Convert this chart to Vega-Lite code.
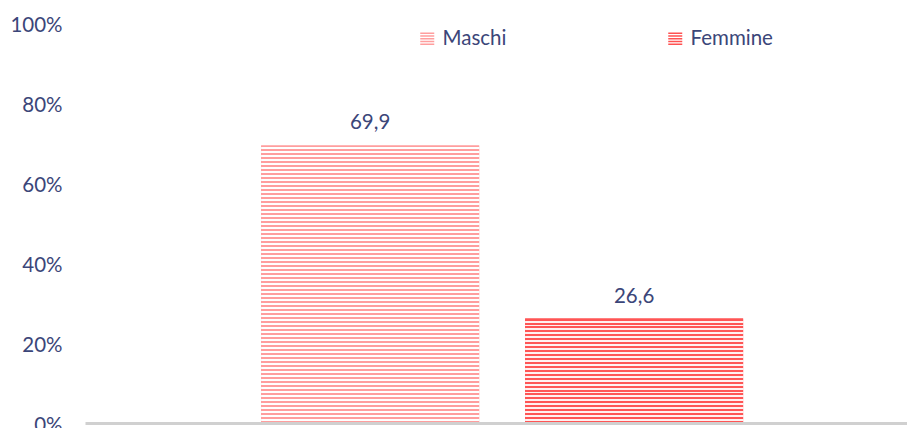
{
  "$schema": "https://vega.github.io/schema/vega-lite/v6.json",
  "width": 822,
  "height": 400,
  "autosize": {"type": "none"},
  "padding": {"left": 85, "top": 25, "right": 0, "bottom": 3},
  "background": "#ffffff",
  "config": {
    "view": {"stroke": null},
    "font": "Lato",
    "locale": {"number": {"decimal": ",", "thousands": ".", "grouping": [3], "currency": ["€", ""]}}
  },
  "data": {"values": [
    {"sesso": "Maschi", "valore": 69.9},
    {"sesso": "Femmine", "valore": 26.6}
  ]},
  "encoding": {
    "x": {
      "field": "sesso", "type": "nominal", "sort": ["Maschi", "Femmine"],
      "scale": {"paddingInner": 0.174, "paddingOuter": 0.644, "align": 0.518},
      "axis": {"title": null, "labels": false, "ticks": false, "domain": true, "domainColor": "#d0d0d0", "domainWidth": 3, "offset": -2, "zindex": 1}
    },
    "y": {
      "field": "valore", "type": "quantitative",
      "scale": {"domain": [0, 100], "nice": false},
      "axis": {"title": null, "values": [0, 20, 40, 60, 80, 100], "labelExpr": "datum.value + '%'", "grid": false, "domain": false, "ticks": false, "labelPadding": 23, "labelFontSize": 20.5, "labelColor": "#3b4679", "labelFont": "Lato"}
    }
  },
  "layer": [
    {
      "mark": {"type": "bar"},
      "encoding": {
        "color": {
          "field": "sesso", "type": "nominal",
          "scale": {"domain": ["Maschi", "Femmine"], "range": ["#ff9e9e", "#ff5252"]},
          "legend": {
            "title": null, "orient": "none", "legendX": 332, "legendY": 4, "direction": "horizontal", "padding": 0,
            "symbolType": "M-1,-1H1V-0.78H-1Z M-1,-0.6H1V-0.38H-1Z M-1,-0.2H1V0.02H-1Z M-1,0.2H1V0.42H-1Z M-1,0.6H1V0.82H-1Z",
            "symbolSize": 196, "symbolStrokeWidth": 0, "labelOffset": 5, "columnPadding": 158,
            "labelFontSize": 20.5, "labelColor": "#3b4679", "labelFont": "Lato"
          }
        }
      }
    },
    {
      "transform": [{"filter": "datum.sesso == 'Maschi'"}],
      "mark": {"type": "bar", "fill": {"gradient": "linear", "x1": 0, "y1": 0, "x2": 0, "y2": 1, "stops": [
{"offset":0,"color":"#ff9e9e"},{"offset":0.00714,"color":"#ff9e9e"},{"offset":0.00714,"color":"#ffffff"},{"offset":0.01429,"color":"#ffffff"},
{"offset":0.01429,"color":"#ff9e9e"},{"offset":0.02143,"color":"#ff9e9e"},{"offset":0.02143,"color":"#ffffff"},{"offset":0.02857,"color":"#ffffff"},
{"offset":0.02857,"color":"#ff9e9e"},{"offset":0.03571,"color":"#ff9e9e"},{"offset":0.03571,"color":"#ffffff"},{"offset":0.04286,"color":"#ffffff"},
{"offset":0.04286,"color":"#ff9e9e"},{"offset":0.05,"color":"#ff9e9e"},{"offset":0.05,"color":"#ffffff"},{"offset":0.05714,"color":"#ffffff"},
{"offset":0.05714,"color":"#ff9e9e"},{"offset":0.06429,"color":"#ff9e9e"},{"offset":0.06429,"color":"#ffffff"},{"offset":0.07143,"color":"#ffffff"},
{"offset":0.07143,"color":"#ff9e9e"},{"offset":0.07857,"color":"#ff9e9e"},{"offset":0.07857,"color":"#ffffff"},{"offset":0.08571,"color":"#ffffff"},
{"offset":0.08571,"color":"#ff9e9e"},{"offset":0.09286,"color":"#ff9e9e"},{"offset":0.09286,"color":"#ffffff"},{"offset":0.1,"color":"#ffffff"},
{"offset":0.1,"color":"#ff9e9e"},{"offset":0.10714,"color":"#ff9e9e"},{"offset":0.10714,"color":"#ffffff"},{"offset":0.11429,"color":"#ffffff"},
{"offset":0.11429,"color":"#ff9e9e"},{"offset":0.12143,"color":"#ff9e9e"},{"offset":0.12143,"color":"#ffffff"},{"offset":0.12857,"color":"#ffffff"},
{"offset":0.12857,"color":"#ff9e9e"},{"offset":0.13571,"color":"#ff9e9e"},{"offset":0.13571,"color":"#ffffff"},{"offset":0.14286,"color":"#ffffff"},
{"offset":0.14286,"color":"#ff9e9e"},{"offset":0.15,"color":"#ff9e9e"},{"offset":0.15,"color":"#ffffff"},{"offset":0.15714,"color":"#ffffff"},
{"offset":0.15714,"color":"#ff9e9e"},{"offset":0.16429,"color":"#ff9e9e"},{"offset":0.16429,"color":"#ffffff"},{"offset":0.17143,"color":"#ffffff"},
{"offset":0.17143,"color":"#ff9e9e"},{"offset":0.17857,"color":"#ff9e9e"},{"offset":0.17857,"color":"#ffffff"},{"offset":0.18571,"color":"#ffffff"},
{"offset":0.18571,"color":"#ff9e9e"},{"offset":0.19286,"color":"#ff9e9e"},{"offset":0.19286,"color":"#ffffff"},{"offset":0.2,"color":"#ffffff"},
{"offset":0.2,"color":"#ff9e9e"},{"offset":0.20714,"color":"#ff9e9e"},{"offset":0.20714,"color":"#ffffff"},{"offset":0.21429,"color":"#ffffff"},
{"offset":0.21429,"color":"#ff9e9e"},{"offset":0.22143,"color":"#ff9e9e"},{"offset":0.22143,"color":"#ffffff"},{"offset":0.22857,"color":"#ffffff"},
{"offset":0.22857,"color":"#ff9e9e"},{"offset":0.23571,"color":"#ff9e9e"},{"offset":0.23571,"color":"#ffffff"},{"offset":0.24286,"color":"#ffffff"},
{"offset":0.24286,"color":"#ff9e9e"},{"offset":0.25,"color":"#ff9e9e"},{"offset":0.25,"color":"#ffffff"},{"offset":0.25714,"color":"#ffffff"},
{"offset":0.25714,"color":"#ff9e9e"},{"offset":0.26429,"color":"#ff9e9e"},{"offset":0.26429,"color":"#ffffff"},{"offset":0.27143,"color":"#ffffff"},
{"offset":0.27143,"color":"#ff9e9e"},{"offset":0.27857,"color":"#ff9e9e"},{"offset":0.27857,"color":"#ffffff"},{"offset":0.28571,"color":"#ffffff"},
{"offset":0.28571,"color":"#ff9e9e"},{"offset":0.29286,"color":"#ff9e9e"},{"offset":0.29286,"color":"#ffffff"},{"offset":0.3,"color":"#ffffff"},
{"offset":0.3,"color":"#ff9e9e"},{"offset":0.30714,"color":"#ff9e9e"},{"offset":0.30714,"color":"#ffffff"},{"offset":0.31429,"color":"#ffffff"},
{"offset":0.31429,"color":"#ff9e9e"},{"offset":0.32143,"color":"#ff9e9e"},{"offset":0.32143,"color":"#ffffff"},{"offset":0.32857,"color":"#ffffff"},
{"offset":0.32857,"color":"#ff9e9e"},{"offset":0.33571,"color":"#ff9e9e"},{"offset":0.33571,"color":"#ffffff"},{"offset":0.34286,"color":"#ffffff"},
{"offset":0.34286,"color":"#ff9e9e"},{"offset":0.35,"color":"#ff9e9e"},{"offset":0.35,"color":"#ffffff"},{"offset":0.35714,"color":"#ffffff"},
{"offset":0.35714,"color":"#ff9e9e"},{"offset":0.36429,"color":"#ff9e9e"},{"offset":0.36429,"color":"#ffffff"},{"offset":0.37143,"color":"#ffffff"},
{"offset":0.37143,"color":"#ff9e9e"},{"offset":0.37857,"color":"#ff9e9e"},{"offset":0.37857,"color":"#ffffff"},{"offset":0.38571,"color":"#ffffff"},
{"offset":0.38571,"color":"#ff9e9e"},{"offset":0.39286,"color":"#ff9e9e"},{"offset":0.39286,"color":"#ffffff"},{"offset":0.4,"color":"#ffffff"},
{"offset":0.4,"color":"#ff9e9e"},{"offset":0.40714,"color":"#ff9e9e"},{"offset":0.40714,"color":"#ffffff"},{"offset":0.41429,"color":"#ffffff"},
{"offset":0.41429,"color":"#ff9e9e"},{"offset":0.42143,"color":"#ff9e9e"},{"offset":0.42143,"color":"#ffffff"},{"offset":0.42857,"color":"#ffffff"},
{"offset":0.42857,"color":"#ff9e9e"},{"offset":0.43571,"color":"#ff9e9e"},{"offset":0.43571,"color":"#ffffff"},{"offset":0.44286,"color":"#ffffff"},
{"offset":0.44286,"color":"#ff9e9e"},{"offset":0.45,"color":"#ff9e9e"},{"offset":0.45,"color":"#ffffff"},{"offset":0.45714,"color":"#ffffff"},
{"offset":0.45714,"color":"#ff9e9e"},{"offset":0.46429,"color":"#ff9e9e"},{"offset":0.46429,"color":"#ffffff"},{"offset":0.47143,"color":"#ffffff"},
{"offset":0.47143,"color":"#ff9e9e"},{"offset":0.47857,"color":"#ff9e9e"},{"offset":0.47857,"color":"#ffffff"},{"offset":0.48571,"color":"#ffffff"},
{"offset":0.48571,"color":"#ff9e9e"},{"offset":0.49286,"color":"#ff9e9e"},{"offset":0.49286,"color":"#ffffff"},{"offset":0.5,"color":"#ffffff"},
{"offset":0.5,"color":"#ff9e9e"},{"offset":0.50714,"color":"#ff9e9e"},{"offset":0.50714,"color":"#ffffff"},{"offset":0.51429,"color":"#ffffff"},
{"offset":0.51429,"color":"#ff9e9e"},{"offset":0.52143,"color":"#ff9e9e"},{"offset":0.52143,"color":"#ffffff"},{"offset":0.52857,"color":"#ffffff"},
{"offset":0.52857,"color":"#ff9e9e"},{"offset":0.53571,"color":"#ff9e9e"},{"offset":0.53571,"color":"#ffffff"},{"offset":0.54286,"color":"#ffffff"},
{"offset":0.54286,"color":"#ff9e9e"},{"offset":0.55,"color":"#ff9e9e"},{"offset":0.55,"color":"#ffffff"},{"offset":0.55714,"color":"#ffffff"},
{"offset":0.55714,"color":"#ff9e9e"},{"offset":0.56429,"color":"#ff9e9e"},{"offset":0.56429,"color":"#ffffff"},{"offset":0.57143,"color":"#ffffff"},
{"offset":0.57143,"color":"#ff9e9e"},{"offset":0.57857,"color":"#ff9e9e"},{"offset":0.57857,"color":"#ffffff"},{"offset":0.58571,"color":"#ffffff"},
{"offset":0.58571,"color":"#ff9e9e"},{"offset":0.59286,"color":"#ff9e9e"},{"offset":0.59286,"color":"#ffffff"},{"offset":0.6,"color":"#ffffff"},
{"offset":0.6,"color":"#ff9e9e"},{"offset":0.60714,"color":"#ff9e9e"},{"offset":0.60714,"color":"#ffffff"},{"offset":0.61429,"color":"#ffffff"},
{"offset":0.61429,"color":"#ff9e9e"},{"offset":0.62143,"color":"#ff9e9e"},{"offset":0.62143,"color":"#ffffff"},{"offset":0.62857,"color":"#ffffff"},
{"offset":0.62857,"color":"#ff9e9e"},{"offset":0.63571,"color":"#ff9e9e"},{"offset":0.63571,"color":"#ffffff"},{"offset":0.64286,"color":"#ffffff"},
{"offset":0.64286,"color":"#ff9e9e"},{"offset":0.65,"color":"#ff9e9e"},{"offset":0.65,"color":"#ffffff"},{"offset":0.65714,"color":"#ffffff"},
{"offset":0.65714,"color":"#ff9e9e"},{"offset":0.66429,"color":"#ff9e9e"},{"offset":0.66429,"color":"#ffffff"},{"offset":0.67143,"color":"#ffffff"},
{"offset":0.67143,"color":"#ff9e9e"},{"offset":0.67857,"color":"#ff9e9e"},{"offset":0.67857,"color":"#ffffff"},{"offset":0.68571,"color":"#ffffff"},
{"offset":0.68571,"color":"#ff9e9e"},{"offset":0.69286,"color":"#ff9e9e"},{"offset":0.69286,"color":"#ffffff"},{"offset":0.7,"color":"#ffffff"},
{"offset":0.7,"color":"#ff9e9e"},{"offset":0.70714,"color":"#ff9e9e"},{"offset":0.70714,"color":"#ffffff"},{"offset":0.71429,"color":"#ffffff"},
{"offset":0.71429,"color":"#ff9e9e"},{"offset":0.72143,"color":"#ff9e9e"},{"offset":0.72143,"color":"#ffffff"},{"offset":0.72857,"color":"#ffffff"},
{"offset":0.72857,"color":"#ff9e9e"},{"offset":0.73571,"color":"#ff9e9e"},{"offset":0.73571,"color":"#ffffff"},{"offset":0.74286,"color":"#ffffff"},
{"offset":0.74286,"color":"#ff9e9e"},{"offset":0.75,"color":"#ff9e9e"},{"offset":0.75,"color":"#ffffff"},{"offset":0.75714,"color":"#ffffff"},
{"offset":0.75714,"color":"#ff9e9e"},{"offset":0.76429,"color":"#ff9e9e"},{"offset":0.76429,"color":"#ffffff"},{"offset":0.77143,"color":"#ffffff"},
{"offset":0.77143,"color":"#ff9e9e"},{"offset":0.77857,"color":"#ff9e9e"},{"offset":0.77857,"color":"#ffffff"},{"offset":0.78571,"color":"#ffffff"},
{"offset":0.78571,"color":"#ff9e9e"},{"offset":0.79286,"color":"#ff9e9e"},{"offset":0.79286,"color":"#ffffff"},{"offset":0.8,"color":"#ffffff"},
{"offset":0.8,"color":"#ff9e9e"},{"offset":0.80714,"color":"#ff9e9e"},{"offset":0.80714,"color":"#ffffff"},{"offset":0.81429,"color":"#ffffff"},
{"offset":0.81429,"color":"#ff9e9e"},{"offset":0.82143,"color":"#ff9e9e"},{"offset":0.82143,"color":"#ffffff"},{"offset":0.82857,"color":"#ffffff"},
{"offset":0.82857,"color":"#ff9e9e"},{"offset":0.83571,"color":"#ff9e9e"},{"offset":0.83571,"color":"#ffffff"},{"offset":0.84286,"color":"#ffffff"},
{"offset":0.84286,"color":"#ff9e9e"},{"offset":0.85,"color":"#ff9e9e"},{"offset":0.85,"color":"#ffffff"},{"offset":0.85714,"color":"#ffffff"},
{"offset":0.85714,"color":"#ff9e9e"},{"offset":0.86429,"color":"#ff9e9e"},{"offset":0.86429,"color":"#ffffff"},{"offset":0.87143,"color":"#ffffff"},
{"offset":0.87143,"color":"#ff9e9e"},{"offset":0.87857,"color":"#ff9e9e"},{"offset":0.87857,"color":"#ffffff"},{"offset":0.88571,"color":"#ffffff"},
{"offset":0.88571,"color":"#ff9e9e"},{"offset":0.89286,"color":"#ff9e9e"},{"offset":0.89286,"color":"#ffffff"},{"offset":0.9,"color":"#ffffff"},
{"offset":0.9,"color":"#ff9e9e"},{"offset":0.90714,"color":"#ff9e9e"},{"offset":0.90714,"color":"#ffffff"},{"offset":0.91429,"color":"#ffffff"},
{"offset":0.91429,"color":"#ff9e9e"},{"offset":0.92143,"color":"#ff9e9e"},{"offset":0.92143,"color":"#ffffff"},{"offset":0.92857,"color":"#ffffff"},
{"offset":0.92857,"color":"#ff9e9e"},{"offset":0.93571,"color":"#ff9e9e"},{"offset":0.93571,"color":"#ffffff"},{"offset":0.94286,"color":"#ffffff"},
{"offset":0.94286,"color":"#ff9e9e"},{"offset":0.95,"color":"#ff9e9e"},{"offset":0.95,"color":"#ffffff"},{"offset":0.95714,"color":"#ffffff"},
{"offset":0.95714,"color":"#ff9e9e"},{"offset":0.96429,"color":"#ff9e9e"},{"offset":0.96429,"color":"#ffffff"},{"offset":0.97143,"color":"#ffffff"},
{"offset":0.97143,"color":"#ff9e9e"},{"offset":0.97857,"color":"#ff9e9e"},{"offset":0.97857,"color":"#ffffff"},{"offset":0.98571,"color":"#ffffff"},
{"offset":0.98571,"color":"#ff9e9e"},{"offset":0.99286,"color":"#ff9e9e"},{"offset":0.99286,"color":"#ffffff"},{"offset":1,"color":"#ffffff"}
      ]}}
    },
    {
      "transform": [{"filter": "datum.sesso == 'Femmine'"}],
      "mark": {"type": "bar", "fill": {"gradient": "linear", "x1": 0, "y1": 0, "x2": 0, "y2": 1, "stops": [
{"offset":0,"color":"#ff5555"},{"offset":0.01852,"color":"#ff5555"},{"offset":0.01852,"color":"#fff0f0"},{"offset":0.03704,"color":"#fff0f0"},
{"offset":0.03704,"color":"#ff5555"},{"offset":0.05556,"color":"#ff5555"},{"offset":0.05556,"color":"#fff0f0"},{"offset":0.07407,"color":"#fff0f0"},
{"offset":0.07407,"color":"#ff5555"},{"offset":0.09259,"color":"#ff5555"},{"offset":0.09259,"color":"#fff0f0"},{"offset":0.11111,"color":"#fff0f0"},
{"offset":0.11111,"color":"#ff5555"},{"offset":0.12963,"color":"#ff5555"},{"offset":0.12963,"color":"#fff0f0"},{"offset":0.14815,"color":"#fff0f0"},
{"offset":0.14815,"color":"#ff5555"},{"offset":0.16667,"color":"#ff5555"},{"offset":0.16667,"color":"#fff0f0"},{"offset":0.18519,"color":"#fff0f0"},
{"offset":0.18519,"color":"#ff5555"},{"offset":0.2037,"color":"#ff5555"},{"offset":0.2037,"color":"#fff0f0"},{"offset":0.22222,"color":"#fff0f0"},
{"offset":0.22222,"color":"#ff5555"},{"offset":0.24074,"color":"#ff5555"},{"offset":0.24074,"color":"#fff0f0"},{"offset":0.25926,"color":"#fff0f0"},
{"offset":0.25926,"color":"#ff5555"},{"offset":0.27778,"color":"#ff5555"},{"offset":0.27778,"color":"#fff0f0"},{"offset":0.2963,"color":"#fff0f0"},
{"offset":0.2963,"color":"#ff5555"},{"offset":0.31481,"color":"#ff5555"},{"offset":0.31481,"color":"#fff0f0"},{"offset":0.33333,"color":"#fff0f0"},
{"offset":0.33333,"color":"#ff5555"},{"offset":0.35185,"color":"#ff5555"},{"offset":0.35185,"color":"#fff0f0"},{"offset":0.37037,"color":"#fff0f0"},
{"offset":0.37037,"color":"#ff5555"},{"offset":0.38889,"color":"#ff5555"},{"offset":0.38889,"color":"#fff0f0"},{"offset":0.40741,"color":"#fff0f0"},
{"offset":0.40741,"color":"#ff5555"},{"offset":0.42593,"color":"#ff5555"},{"offset":0.42593,"color":"#fff0f0"},{"offset":0.44444,"color":"#fff0f0"},
{"offset":0.44444,"color":"#ff5555"},{"offset":0.46296,"color":"#ff5555"},{"offset":0.46296,"color":"#fff0f0"},{"offset":0.48148,"color":"#fff0f0"},
{"offset":0.48148,"color":"#ff5555"},{"offset":0.5,"color":"#ff5555"},{"offset":0.5,"color":"#fff0f0"},{"offset":0.51852,"color":"#fff0f0"},
{"offset":0.51852,"color":"#ff5555"},{"offset":0.53704,"color":"#ff5555"},{"offset":0.53704,"color":"#fff0f0"},{"offset":0.55556,"color":"#fff0f0"},
{"offset":0.55556,"color":"#ff5555"},{"offset":0.57407,"color":"#ff5555"},{"offset":0.57407,"color":"#fff0f0"},{"offset":0.59259,"color":"#fff0f0"},
{"offset":0.59259,"color":"#ff5555"},{"offset":0.61111,"color":"#ff5555"},{"offset":0.61111,"color":"#fff0f0"},{"offset":0.62963,"color":"#fff0f0"},
{"offset":0.62963,"color":"#ff5555"},{"offset":0.64815,"color":"#ff5555"},{"offset":0.64815,"color":"#fff0f0"},{"offset":0.66667,"color":"#fff0f0"},
{"offset":0.66667,"color":"#ff5555"},{"offset":0.68519,"color":"#ff5555"},{"offset":0.68519,"color":"#fff0f0"},{"offset":0.7037,"color":"#fff0f0"},
{"offset":0.7037,"color":"#ff5555"},{"offset":0.72222,"color":"#ff5555"},{"offset":0.72222,"color":"#fff0f0"},{"offset":0.74074,"color":"#fff0f0"},
{"offset":0.74074,"color":"#ff5555"},{"offset":0.75926,"color":"#ff5555"},{"offset":0.75926,"color":"#fff0f0"},{"offset":0.77778,"color":"#fff0f0"},
{"offset":0.77778,"color":"#ff5555"},{"offset":0.7963,"color":"#ff5555"},{"offset":0.7963,"color":"#fff0f0"},{"offset":0.81481,"color":"#fff0f0"},
{"offset":0.81481,"color":"#ff5555"},{"offset":0.83333,"color":"#ff5555"},{"offset":0.83333,"color":"#fff0f0"},{"offset":0.85185,"color":"#fff0f0"},
{"offset":0.85185,"color":"#ff5555"},{"offset":0.87037,"color":"#ff5555"},{"offset":0.87037,"color":"#fff0f0"},{"offset":0.88889,"color":"#fff0f0"},
{"offset":0.88889,"color":"#ff5555"},{"offset":0.90741,"color":"#ff5555"},{"offset":0.90741,"color":"#fff0f0"},{"offset":0.92593,"color":"#fff0f0"},
{"offset":0.92593,"color":"#ff5555"},{"offset":0.94444,"color":"#ff5555"},{"offset":0.94444,"color":"#fff0f0"},{"offset":0.96296,"color":"#fff0f0"},
{"offset":0.96296,"color":"#ff5555"},{"offset":0.98148,"color":"#ff5555"},{"offset":0.98148,"color":"#fff0f0"},{"offset":1,"color":"#fff0f0"}
      ]}}
    },
    {
      "mark": {"type": "text", "baseline": "alphabetic", "dy": -16, "fontSize": 20.5, "color": "#3b4679", "font": "Lato"},
      "encoding": {
        "text": {"field": "valore", "type": "quantitative", "format": ".1f"}
      }
    }
  ]
}
